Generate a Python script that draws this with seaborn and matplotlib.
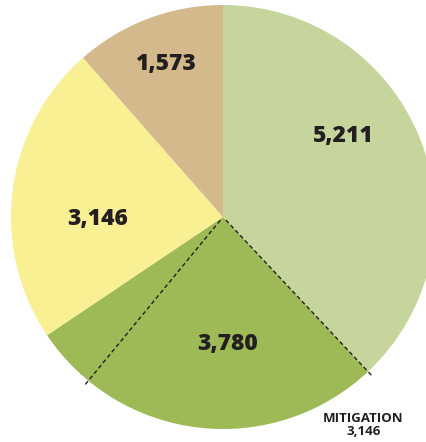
import numpy as np
import matplotlib
matplotlib.use("Agg")
import matplotlib.pyplot as plt
import seaborn as sns

# Slice data (clockwise from 12 o'clock)
categories = ["A", "B", "C", "D"]
values = [5211, 3780, 3146, 1573]
value_labels = ["5,211", "3,780", "3,146", "1,573"]
colors = ["#C5D59C", "#9DBA57", "#F9EF93", "#D3B98B"]

# Sub-portion of the second slice
mitigation_value = 3146
mitigation_label = "MITIGATION\n3,146"

sns.set_theme(style="white")
plt.rcParams["font.family"] = ["Open Sans", "DejaVu Sans"]

fig = plt.figure(figsize=(4.27, 4.42), dpi=100)
ax = fig.add_axes([0, 0, 1, 1])

wedges, _ = ax.pie(values, colors=colors, startangle=90, counterclock=False,
                   radius=1.0, center=(0, 0),
                   wedgeprops=dict(linewidth=0, antialiased=True))

# Label placements (data coords)
label_pos = [(0.57, 0.38), (0.02, -0.60), (-0.59, -0.01), (-0.27, 0.72)]
for lab, (x, y) in zip(value_labels, label_pos):
    ax.text(x, y, lab, ha="center", va="center", fontsize=16.5,
            fontweight="heavy", color="#231F20")

# Dashed lines marking the mitigation part of the second slice
total = sum(values)
a1 = 90 - 360 * values[0] / total
a2 = a1 - 360 * mitigation_value / total
for a in (a1, a2):
    t = np.deg2rad(a)
    ax.plot([0.02 * np.cos(t), 1.035 * np.cos(t)],
            [0.02 * np.sin(t), 1.035 * np.sin(t)],
            color="#231F20", lw=1.0, ls=(0, (3, 2)))

ax.text(0.662, -0.98, mitigation_label, ha="center", va="center",
        fontsize=9.5, fontweight="bold", color="#231F20", linespacing=0.95)

ax.set_xlim(-223 / 212, (427 - 223) / 212)
ax.set_ylim(-(442 - 217) / 212, 217 / 212)
ax.set_aspect("auto")
ax.axis("off")

fig.savefig("out.png", dpi=100, facecolor="white")
